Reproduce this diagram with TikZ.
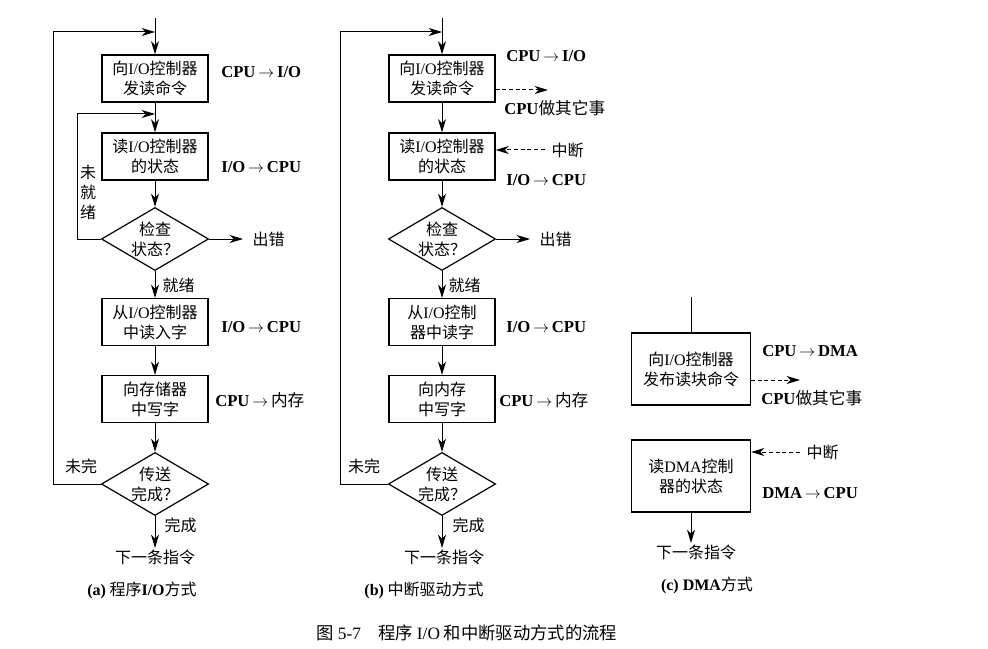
\documentclass[tikz,border=0pt]{standalone}
\usepackage{fontspec}
\setmainfont{Liberation Serif}
\newfontfamily\zh{Noto Sans CJK SC}
\usetikzlibrary{shapes.geometric,arrows.meta}
\newcommand{\lat}[1]{{\rmfamily #1}}
\newcommand{\zhsize}{\fontsize{12}{15}\selectfont}
\newcommand{\tto}{\,$\rightarrow$\,}

\tikzset{
  arr/.style={-{Stealth[length=10pt,width=6pt,inset=3pt]}, line width=0.75pt},
  dasharr/.style={arr, dash pattern=on 3pt off 2pt},
  proc/.style={draw, line width=0.9pt, minimum width=79.5pt, minimum height=35.25pt,
    inner sep=1pt, align=center, font=\zh\zhsize},
  procw/.style={proc, minimum width=89.25pt, minimum height=54pt},
  decide/.style={diamond, draw, line width=0.9pt, aspect=1.7, inner sep=0pt,
    minimum width=79.5pt, align=center, font=\zh\zhsize},
  zhtext/.style={font=\zh\zhsize, inner sep=1pt},
  flow/.style={font=\bfseries\fontsize{12.5}{15}\selectfont, anchor=west, inner sep=0pt},
}

\begin{document}
\begin{tikzpicture}[x=0.75pt,y=-0.75pt]
\useasboundingbox (0,0) rectangle (988,649);

% (a) program I/O
\coordinate (atop) at (155,18);
\coordinate (aback) at (155,32);
\coordinate (aloop) at (53,32);
\coordinate (aret) at (155,114);
\coordinate (aleft) at (77,114);
\node[proc] (a1) at (155,78.5) {向\lat{I/O}控制器\\发读命令};
\node[proc] (a2) at (155,156.5) {读\lat{I/O}控制器\\的状态};
\node[decide] (a3) at (155,239) {检查\\状态？};
\node[proc] (a4) at (155,322) {从\lat{I/O}控制器\\中读入字};
\node[proc] (a5) at (155,399) {向存储器\\中写字};
\node[decide] (a6) at (155,484) {传送\\完成？};
\node[zhtext] (aend) at (155,557) {下一条指令};
\node[flow] (acpuio) at (221,72) {CPU\tto I/O};
\node[flow] (aiocpu) at (221,167) {I/O\tto CPU};
\node[flow] (aiocpu2) at (221,327) {I/O\tto CPU};
\node[flow] (acpumem) at (215,400) {CPU\tto{\zh\mdseries 内存}};
\node[zhtext, align=center, font=\zh\fontsize{12}{15}\selectfont] (anotready) at (88,192) {未\\就\\绪};
\node[zhtext, anchor=west] (aerr) at (251,239) {出错};
\node[zhtext, anchor=west] (aready) at (161,285) {就绪};
\node[zhtext] (anotdone) at (81,466) {未完};
\node[zhtext, anchor=west] (adone) at (163,525) {完成};
\node[zhtext] (acap) at (142,590) {\lat{\bfseries (a)} 程序\lat{\bfseries I/O}方式};

\draw[arr] (atop) -- (a1);
\draw[arr] (a1) -- (a2);
\draw[arr] (a2) -- (a3);
\draw[arr] (a3) -- (a4);
\draw[arr] (a4) -- (a5);
\draw[arr] (a5) -- (a6);
\draw[arr] (a6) -- (aend);
\draw[arr] (a3.west) -| (aleft) -- (aret);
\draw[arr] (a6.west) -| (aloop) -- (aback);
\draw[arr] (a3.east) -- ([xshift=-6pt]a3.east -| aerr.west);

% (b) interrupt driven
\coordinate (btop) at (442,18);
\coordinate (bback) at (442,32);
\coordinate (bloop) at (340,32);
\coordinate (bother) at (548,90);
\node[proc] (b1) at (442,78.5) {向\lat{I/O}控制器\\发读命令};
\node[proc] (b2) at (442,156.5) {读\lat{I/O}控制器\\的状态};
\node[decide] (b3) at (442,239) {检查\\状态？};
\node[proc] (b4) at (442,322) {从\lat{I/O}控制\\器中读字};
\node[proc] (b5) at (442,399) {向内存\\中写字};
\node[decide] (b6) at (442,484) {传送\\完成？};
\node[zhtext] (bend) at (444,557) {下一条指令};
\node[flow] (bcpuio) at (506,56) {CPU\tto I/O};
\node[flow] (bcpuother) at (504,108) {CPU{\zh\mdseries 做其它事}};
\node[zhtext, anchor=west] (bint) at (550,150) {中断};
\node[flow] (biocpu) at (506,180) {I/O\tto CPU};
\node[flow] (biocpu2) at (506,327) {I/O\tto CPU};
\node[flow] (bcpumem) at (499,400) {CPU\tto{\zh\mdseries 内存}};
\node[zhtext, anchor=west] (berr) at (538,239) {出错};
\node[zhtext, anchor=west] (bready) at (447,285) {就绪};
\node[zhtext] (bnotdone) at (364,466) {未完};
\node[zhtext, anchor=west] (bdone) at (451,525) {完成};
\node[zhtext] (bcap) at (424,590) {\lat{\bfseries (b)} 中断驱动方式};

\draw[arr] (btop) -- (b1);
\draw[arr] (b1) -- (b2);
\draw[arr] (b2) -- (b3);
\draw[arr] (b3) -- (b4);
\draw[arr] (b4) -- (b5);
\draw[arr] (b5) -- (b6);
\draw[arr] (b6.south) -- (b6.south |- bend.north);
\draw[arr] (b6.west) -| (bloop) -- (bback);
\draw[arr] (b3.east) -- ([xshift=-6pt]b3.east -| berr.west);
\draw[dasharr] (b1.east |- bother) -- (bother);
\draw[dasharr] ([xshift=-4pt]bint.west) -- (bint.west -| b2.east);

% (c) DMA
\coordinate (ctop) at (691,297);
\coordinate (cother) at (800,380);
\node[procw] (c1) at (691,369) {向\lat{I/O}控制器\\发布读块命令};
\node[procw] (c2) at (691,476) {读\lat{DMA}控制\\器的状态};
\node[zhtext] (cend) at (696,552) {下一条指令};
\node[flow] (ccpudma) at (762,351) {CPU\tto DMA};
\node[flow] (ccpuother) at (761,398) {CPU{\zh\mdseries 做其它事}};
\node[zhtext, anchor=west] (cint) at (805,452) {中断};
\node[flow] (cdmacpu) at (762,493) {DMA\tto CPU};
\node[zhtext] (ccap) at (707,585) {\lat{\bfseries (c) DMA}方式};

\draw[line width=0.75pt] (ctop) -- (c1);
\draw[arr] (c2.south) -- (c2.south |- cend.north);
\draw[dasharr] (c1.east |- cother) -- (cother);
\draw[dasharr] ([xshift=-4pt]cint.west) -- (cint.west -| c2.east);

% figure caption
\node[zhtext, font=\zh\fontsize{13}{15}\selectfont] (figcap) at (467,633)
  {图 \lat{5-7}\quad 程序 \lat{I/O} 和中断驱动方式的流程};
\end{tikzpicture}
\end{document}
